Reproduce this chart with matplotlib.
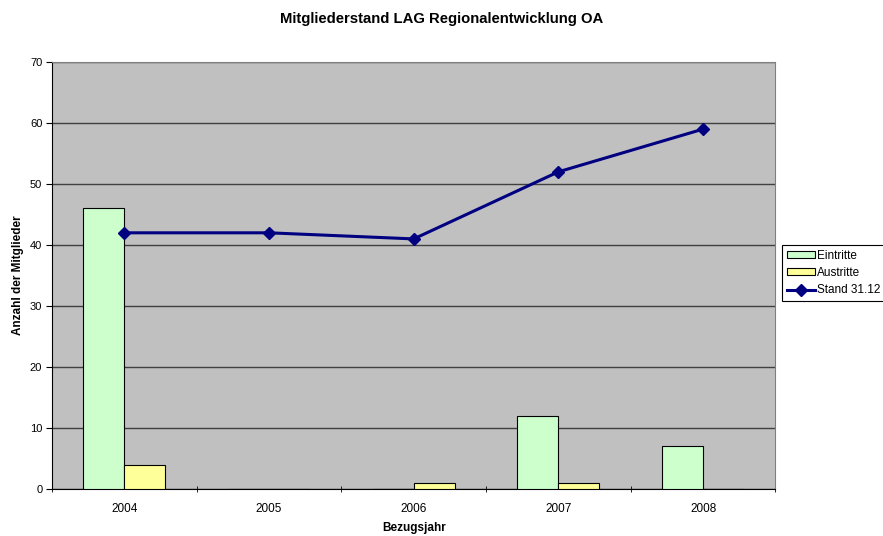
import matplotlib.pyplot as plt
import numpy as np

plt.rcParams['font.family'] = ['Liberation Sans', 'DejaVu Sans']

jahre = ['2004', '2005', '2006', '2007', '2008']
eintritte = [46, 0, 0, 12, 7]
austritte = [4, 0, 1, 1, 0]
stand = [42, 42, 41, 52, 59]

x = np.arange(len(jahre))
w = 0.283

fig = plt.figure(figsize=(8.83, 5.36), dpi=100)
ax = fig.add_axes([0.0589, 0.0877, 0.8193, 0.7966])
ax.set_facecolor('#c0c0c0')

b1 = ax.bar(x - w / 2, eintritte, w, color='#ccffcc', edgecolor='black', linewidth=0.8,
            label='Eintritte', zorder=3)
b2 = ax.bar(x + w / 2, austritte, w, color='#ffff99', edgecolor='black', linewidth=0.8,
            label='Austritte', zorder=3)
l1, = ax.plot(x, stand, color='#000080', lw=2.2, marker='D', ms=6, label='Stand 31.12',
              zorder=4)

ax.set_xlim(-0.5, len(jahre) - 0.5)
ax.set_ylim(0, 70)
ax.set_yticks(range(0, 71, 10))
ax.yaxis.grid(True, color='#404040', lw=1, zorder=1)
ax.set_axisbelow(True)

ax.set_xticks(x)
ax.set_xticklabels(jahre, fontsize=8.5)
ax.set_xticks(np.arange(-0.5, len(jahre), 1), minor=True)
ax.tick_params(axis='x', which='major', length=0, pad=10)
ax.tick_params(axis='x', which='minor', length=5, direction='inout', color='black')
ax.tick_params(axis='y', labelsize=8, length=4, direction='out', pad=3)

for s in ['top', 'right']:
    ax.spines[s].set_color('#808080')
for s in ['left', 'bottom']:
    ax.spines[s].set_color('black')

ax.set_xlabel('Bezugsjahr', fontsize=8.5, fontweight='bold', labelpad=5)
ax.set_ylabel('Anzahl der Mitglieder', fontsize=8.5, fontweight='bold')
ax.yaxis.set_label_coords(-0.039, 0.5)
fig.suptitle('Mitgliederstand LAG Regionalentwicklung OA', fontsize=10.7,
             fontweight='bold', y=0.978)

leg = fig.legend([b1, b2, l1], ['Eintritte', 'Austritte', 'Stand 31.12'],
                 loc='upper left', bbox_to_anchor=(0.886, 0.543), fontsize=8.5,
                 frameon=True, fancybox=False, edgecolor='black', framealpha=1,
                 borderpad=0.4, handlelength=2.4, handleheight=0.5, labelspacing=0.45,
                 handletextpad=0.15, borderaxespad=0)
leg.get_frame().set_linewidth(0.8)

fig.savefig('out.png', dpi=100)
